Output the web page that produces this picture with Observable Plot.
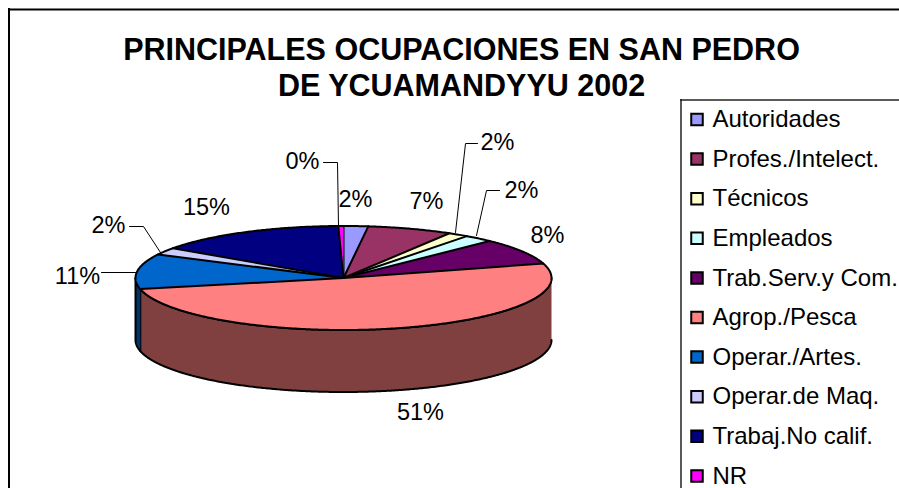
<!DOCTYPE html>
<html>
<head>
<meta charset="utf-8">
<style>html,body{margin:0;padding:0;background:#fff;overflow:hidden}svg{display:block}</style>
<script src="https://cdn.jsdelivr.net/npm/d3@7"></script>
<script src="https://cdn.jsdelivr.net/npm/@observablehq/plot@0.6"></script>
</head>
<body>
<script>
const categories = ["Autoridades","Profes./Intelect.","Técnicos","Empleados","Trab.Serv.y Com.","Agrop./Pesca","Operar./Artes.","Operar.de Maq.","Trabaj.No calif.","NR"];
const shares = [1.9,6.6,1.6,2.3,8.1,51,10.9,2.2,14.9,0.4];
const topColors = ["#9999FF","#993366","#FFFFCC","#CCFFFF","#660066","#FF8080","#0066CC","#CCCCFF","#000080","#FF00FF"];
const sideColors = ["#4D4D80","#4D1A33","#808066","#668080","#330033","#804040","#003366","#666680","#000040","#800080"];
const titleLines = ["PRINCIPALES OCUPACIONES EN SAN PEDRO","DE YCUAMANDYYU 2002"];

// layout of the picture, in pixels
const W = 899, H = 488;
const cx = 343, cy = 277.5, rx = 208, ry = 52, depth = 62;
const labelSpots = [[355,199],[426,201],[497,142],[521,190],[547,235],[420,412],[77,276],[108,225],[206,207],[302,161]];
const leaders = [
  {i:2, path:[[455,232],[465,143],[477,143]]},
  {i:3, path:[[476,235],[486,190],[499,190]]},
  {i:6, path:[[135,272],[101,272]]},
  {i:7, path:[[160,252],[143,226],[129,226]]},
  {i:9, path:[[338,226],[337,162],[323,162]]}
];
const legendTop = 119, legendStep = 39.6;

const pt = (t, dy = 0) => ({x: cx + rx * Math.sin(t * Math.PI / 180), y: cy + dy - ry * Math.cos(t * Math.PI / 180)});
const total = d3.sum(shares);
let run = 0;
const arcs = shares.map((v, i) => {
  const a0 = run / total * 360; run += v;
  return {i, a0, a1: run / total * 360};
});
const sweep = (a, b) => {
  const n = Math.max(2, Math.ceil((b - a) * 2));
  return d3.range(n + 1).map(k => a + (b - a) * k / n);
};

const topPts = arcs.flatMap(({i, a0, a1}) =>
  [{x: cx, y: cy}, ...sweep(a0, a1).map(t => pt(t))].map(p => ({...p, key: i, color: topColors[i]})));

const sidePts = arcs.flatMap(({i, a0, a1}) => {
  const a = Math.max(a0, 90), b = Math.min(a1, 270);
  if (b <= a) return [];
  const ts = sweep(a, b);
  return [...ts.map(t => pt(t)), ...ts.slice().reverse().map(t => pt(t, depth))]
    .map(p => ({...p, key: i, color: sideColors[i]}));
});

const leaderPts = leaders.flatMap(({i, path}) => path.map(([x, y]) => ({x, y, key: i})));
const labels = shares.map((v, i) => ({text: Math.round(v) + "%", x: labelSpots[i][0], y: labelSpots[i][1]}));
const legend = categories.map((name, i) => ({name, color: topColors[i], y: legendTop + i * legendStep}));

const chart = Plot.plot({
  width: W, height: H, margin: 0,
  x: {domain: [0, W], range: [0, W], axis: null},
  y: {domain: [0, H], range: [0, H], axis: null},
  color: {type: "identity"},
  style: {background: "#fff", fontFamily: "'Liberation Sans', Arial, sans-serif"},
  marks: [
    Plot.ruleY([9], {x1: 8, x2: W, stroke: "#000", strokeWidth: 2}),
    Plot.ruleX([8.5], {y1: 8, y2: H, stroke: "#000", strokeWidth: 2}),
    Plot.ruleY([99.5], {x1: 680, x2: W, stroke: "#222", strokeWidth: 1.5}),
    Plot.ruleX([680.5], {y1: 99, y2: H, stroke: "#222", strokeWidth: 1.5}),
    Plot.line(sidePts, {x: "x", y: "y", z: "key", fill: "color", stroke: "#000", strokeWidth: 2, strokeLinejoin: "round"}),
    Plot.line(topPts, {x: "x", y: "y", z: "key", fill: "color", stroke: "#000", strokeWidth: 2, strokeLinejoin: "round"}),
    Plot.line(leaderPts, {x: "x", y: "y", z: "key", stroke: "#000", strokeWidth: 1}),
    Plot.text(titleLines, {x: () => 461, y: (d, i) => 50 + i * 36, text: d => d, fontSize: 30.5, fontWeight: "bold", fill: "#000", textAnchor: "middle", lineAnchor: "middle"}),
    Plot.text(labels, {x: "x", y: "y", text: "text", fontSize: 23.5, fill: "#000", textAnchor: "middle", lineAnchor: "middle"}),
    Plot.dot(legend, {x: () => 696.5, y: "y", symbol: "square", r: 6.5, fill: "color", stroke: "#000", strokeWidth: 2}),
    Plot.text(legend, {x: () => 712, y: "y", text: "name", fontSize: 24, fill: "#000", textAnchor: "start", lineAnchor: "middle"})
  ]
});
document.body.appendChild(chart);
</script>
</body>
</html>
